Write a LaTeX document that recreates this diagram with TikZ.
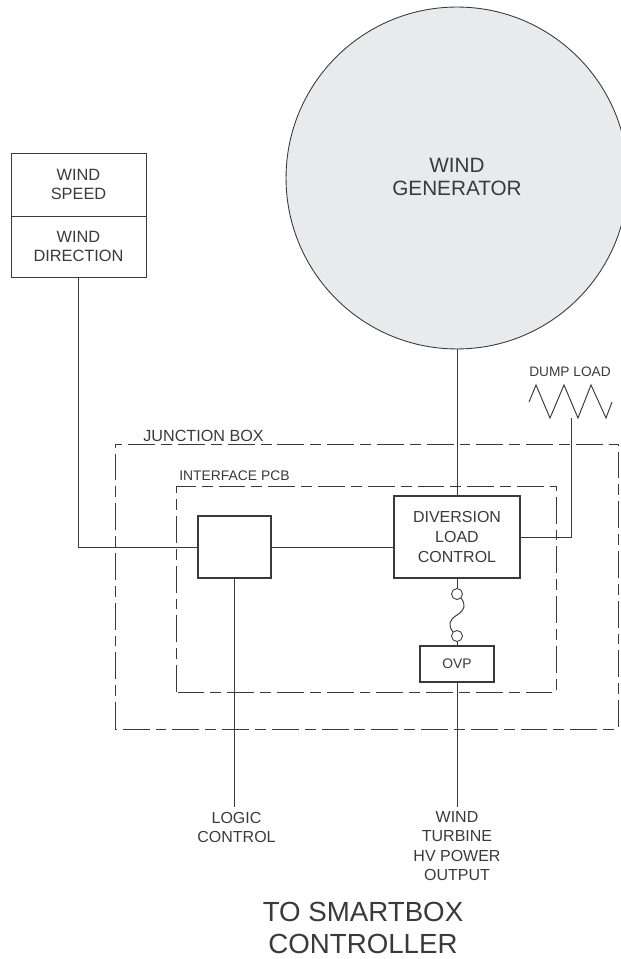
\documentclass[tikz,border=0pt]{standalone}
\usepackage{fontspec}
\setmainfont{Liberation Sans}
\usepackage{xcolor}
\definecolor{linegray}{HTML}{3A3A3A}
\definecolor{gengray}{HTML}{E9EAEB}
\tikzset{
  lbl/.style={text=linegray, align=center, inner sep=0pt, font=\fontsize{9.2}{11}\selectfont},
  smalllbl/.style={lbl, font=\fontsize{7.9}{9}\selectfont},
  block/.style={draw=linegray, line width=1.1pt, lbl},
  thin box/.style={draw=linegray, line width=0.5pt},
  wire/.style={draw=linegray, line width=0.55pt},
  encl/.style={draw=linegray, line width=0.55pt, dash pattern=on 15.3pt off 3.4pt on 6.2pt off 3.4pt},
}
\begin{document}
\begin{tikzpicture}[x=0.02cm, y=-0.02cm]
     \useasboundingbox (0,0) rectangle (621,959);
     \clip (0,0) rectangle (621,959);

     \node[thin box, fill=gengray, circle, minimum size=6.84cm, inner sep=0pt] (gen) at (457,178) {};
     \node[lbl, font=\fontsize{11.8}{13.6}\selectfont] (genlabel) at (457,177) {WIND\\GENERATOR};

     \node[thin box, lbl, font=\fontsize{9.3}{11.3}\selectfont, minimum width=2.7cm, minimum height=1.26cm] (speed) at (78.5,184.5) {WIND\\SPEED};
     \node[thin box, lbl, font=\fontsize{9.3}{11.3}\selectfont, minimum width=2.7cm, minimum height=1.22cm] (direction) at (78.5,246.5) {WIND\\DIRECTION};

     \draw[encl] (115,729) -- (115,444) -- (618,444) -- (618,729) -- cycle;
     \draw[encl] (176,692) -- (176,486) -- (556,486) -- (556,692) -- cycle;
     \node[lbl, anchor=west] (junction) at (143,436) {JUNCTION BOX};
     \node[smalllbl, anchor=west] (interface) at (179,476) {INTERFACE PCB};

     \node[block, minimum width=1.46cm, minimum height=1.24cm] (logic) at (234.5,547) {};
     \node[block, font=\fontsize{9.1}{11.3}\selectfont, minimum width=2.52cm, minimum height=1.64cm] (diversion) at (457,537) {DIVERSION\\LOAD\\CONTROL};
     \node[block, smalllbl, minimum width=1.48cm, minimum height=0.72cm] (ovp) at (457,664) {OVP};

     \node[thin box, circle, minimum size=0.22cm, inner sep=0pt] (fusetop) at (457,594) {};
     \node[thin box, circle, minimum size=0.22cm, inner sep=0pt] (fusebot) at (457,636) {};
     \draw[wire] (diversion.south) -- (fusetop.north);
     \draw[wire] (fusebot.south) -- (ovp.north);
     \draw[wire] (fusetop.south east) .. controls (466,605) and (465,610) .. (457,615) .. controls (449,620) and (448,625) .. (fusebot.north west);

     \draw[wire] (gen.south -| diversion.north) -- (diversion.north);
     \draw[wire] (direction.south) |- (logic.west);
     \draw[wire] (logic.east) -- (diversion.west |- logic.east);

     \node[smalllbl, font=\fontsize{7.8}{9}\selectfont] (dumplabel) at (570,372) {DUMP LOAD};
     \draw[wire] (529,402) -- (536,385) -- (550,418) -- (564,385) -- (578,418) -- (591,385) -- (606,418) -- (612,402);
     \coordinate (dump) at (571,418);
     \draw[wire] (diversion.east) -| (dump);

     \node[lbl, font=\fontsize{9.1}{10.8}\selectfont, inner ysep=2.5pt] (logiclabel) at (236.5,827) {LOGIC\\CONTROL};
     \node[lbl, font=\fontsize{9.1}{10.9}\selectfont, inner ysep=2.5pt] (power) at (457,846) {WIND\\TURBINE\\HV POWER\\OUTPUT};
     \draw[wire] (logic.south) -- (logiclabel.north -| logic.south);
     \draw[wire] (ovp.south) -- (power.north);

     \node[lbl, font=\fontsize{15.75}{18.4}\selectfont] (smartbox) at (363,928) {TO SMARTBOX\\CONTROLLER};
\end{tikzpicture}
\end{document}
